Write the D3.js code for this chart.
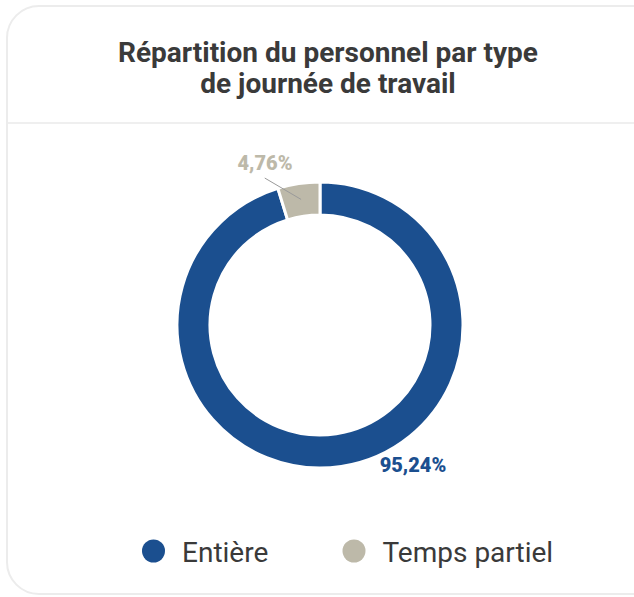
<!DOCTYPE html>
<html lang="fr">
<head>
<meta charset="utf-8">
<title>Répartition du personnel</title>
<script src="https://d3js.org/d3.v7.min.js"></script>
<style>
  body { margin: 0; background: #fff; font-family: Roboto, "Noto Sans", sans-serif; }
</style>
</head>
<body>
<script>
// data
var categories = ["Entière", "Temps partiel"];
var values = [95.24, 4.76];
var labels = ["95,24%", "4,76%"];
var colors = ["#1b4f8f", "#bdb9a9"];
var titleLines = ["Répartition du personnel par type", "de journée de travail"];

var width = 634, height = 597;
var svg = d3.select("body").append("svg")
    .attr("width", width)
    .attr("height", height);

// card
svg.append("rect")
    .attr("x", 7).attr("y", 6)
    .attr("width", 660).attr("height", 588)
    .attr("rx", 32)
    .attr("fill", "#fff")
    .attr("stroke", "#ececec")
    .attr("stroke-width", 2);

svg.append("line")
    .attr("x1", 8).attr("x2", width)
    .attr("y1", 123).attr("y2", 123)
    .attr("stroke", "#efefef")
    .attr("stroke-width", 2);

svg.selectAll("text.title")
  .data(titleLines)
  .enter().append("text")
    .attr("class", "title")
    .attr("x", 328)
    .attr("y", function(d, i) { return 62 + i * 31; })
    .attr("text-anchor", "middle")
    .attr("font-size", "28px")
    .attr("font-weight", "bold")
    .attr("fill", "#3a3a3a")
    .text(function(d) { return d; });

// donut
var cx = 320, cy = 325;
var outerR = 143, innerR = 110;

var pie = d3.pie().sort(null).value(function(d) { return d; });
var arcs = pie(values);
var arc = d3.arc().innerRadius(innerR).outerRadius(outerR);

var g = svg.append("g").attr("transform", "translate(" + cx + "," + cy + ")");

g.selectAll("path")
  .data(arcs)
  .enter().append("path")
    .attr("d", arc)
    .attr("fill", function(d, i) { return colors[i]; })
    .attr("stroke", "#fff")
    .attr("stroke-width", 3);

function polar(angle, r) {
  return [r * Math.sin(angle), -r * Math.cos(angle)];
}

// small slice: leader line + label outside
var small = arcs[1];
var midS = (small.startAngle + small.endAngle) / 2 - 2 * Math.PI;
var p0 = polar(midS, 127), p1 = polar(midS - 0.21, 157);
g.append("line")
    .attr("x1", p0[0]).attr("y1", p0[1])
    .attr("x2", p1[0]).attr("y2", p1[1])
    .attr("stroke", "#9a9a9a")
    .attr("stroke-width", 1);
var pl = polar(midS - 0.178, 171);
g.append("text")
    .attr("x", pl[0]).attr("y", pl[1] + 7)
    .attr("text-anchor", "middle")
    .attr("font-size", "20px")
    .attr("font-weight", 900)
    .attr("fill", colors[1])
    .text(labels[1]);

// big slice label, lower right
var big = arcs[0];
var pb = polar(big.startAngle + (big.endAngle - big.startAngle) * 0.427, 168);
g.append("text")
    .attr("x", pb[0]).attr("y", pb[1] + 7)
    .attr("text-anchor", "middle")
    .attr("font-size", "20px")
    .attr("font-weight", 900)
    .attr("fill", colors[0])
    .text(labels[0]);

// legend
var legendX = d3.scaleOrdinal().domain(categories).range([153.5, 354]);
var lg = svg.selectAll("g.legend")
  .data(categories)
  .enter().append("g")
    .attr("class", "legend")
    .attr("transform", function(d) { return "translate(" + legendX(d) + ",551)"; });
lg.append("circle")
    .attr("r", 11.5)
    .attr("fill", function(d, i) { return colors[i]; });
lg.append("text")
    .attr("x", 28.5)
    .attr("y", 10.5)
    .attr("font-size", "28px")
    .attr("fill", "#3a3a3a")
    .text(function(d) { return d; });
</script>
</body>
</html>
